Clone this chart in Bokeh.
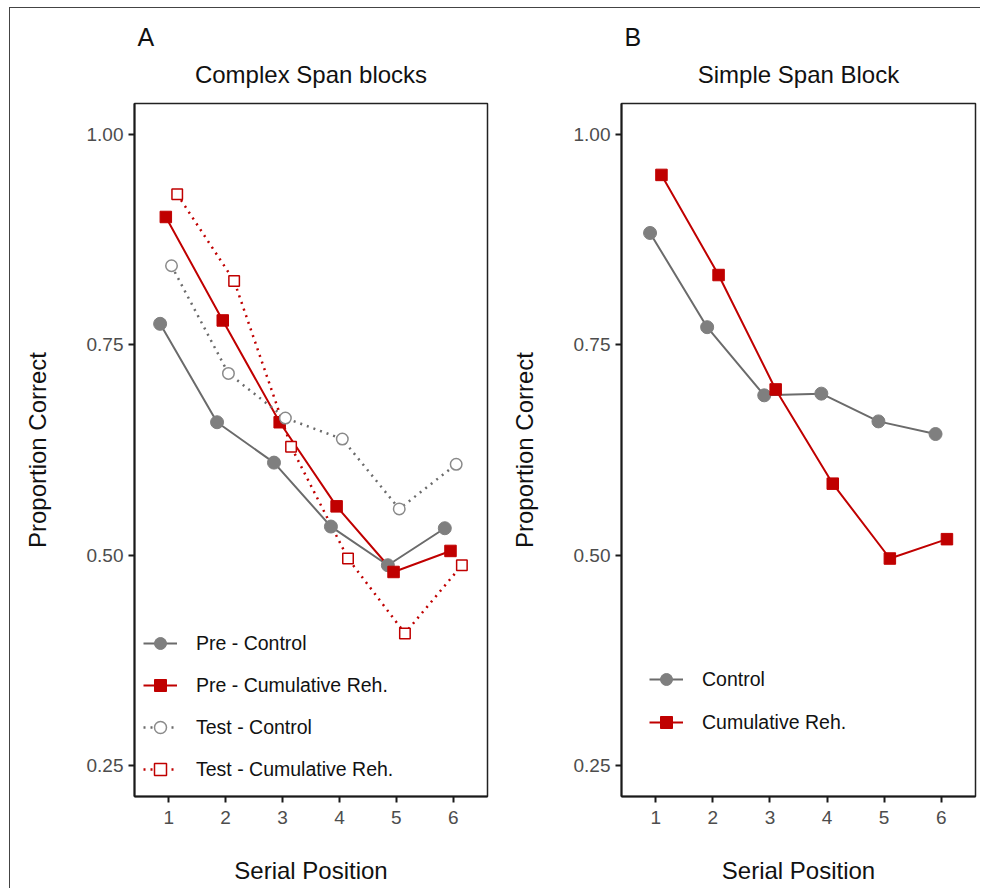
from bokeh.plotting import figure
from bokeh.models import Range1d, FixedTicker, Legend, LegendItem, Title, Spacer
from bokeh.layouts import row, column
from bokeh.embed import file_html
from bokeh.resources import INLINE

# ---------------- data ----------------
serial_position = [1, 2, 3, 4, 5, 6]

a_pre_control = [0.775, 0.658, 0.610, 0.534, 0.488, 0.532]
a_pre_cumulative = [0.902, 0.779, 0.658, 0.558, 0.480, 0.505]
a_test_control = [0.844, 0.716, 0.663, 0.638, 0.555, 0.608]
a_test_cumulative = [0.929, 0.826, 0.629, 0.496, 0.407, 0.488]

b_control = [0.883, 0.771, 0.690, 0.692, 0.659, 0.644]
b_cumulative = [0.952, 0.833, 0.697, 0.585, 0.496, 0.519]

y_ticks = [0.25, 0.50, 0.75, 1.00]
y_tick_labels = ["0.25", "0.50", "0.75", "1.00"]
x_ticks = [1, 2, 3, 4, 5, 6]

# ---------------- style ----------------
FONT = "Liberation Sans"
GRAY_PT = "#7f7f7f"
GRAY_LN = "#6b6b6b"
GRAY_OPEN = "#8a8a8a"
RED = "#c00000"
DODGE = 0.4  # total dodge width (ggplot position_dodge)
H = 880
TOP = 95
BOTTOM = 788


def dodge(xs, k, n):
    step = DODGE / n
    off = -DODGE / 2 + step * (k + 0.5)
    return [x + off for x in xs]


def make_panel(width, left, right, title, letter):
    p = figure(width=width, height=H, output_backend="svg", toolbar_location=None,
               x_range=Range1d(0.4, 6.6), y_range=Range1d(0.2131, 1.0369),
               min_border_left=left, min_border_right=right,
               min_border_top=TOP, min_border_bottom=H - BOTTOM, title=None)
    p.grid.visible = False
    p.outline_line_color = "#222222"
    p.outline_line_width = 1.5
    p.background_fill_color = "white"
    p.border_fill_color = "white"

    # blank spacer title (gap between frame and title), then title, then panel letter
    p.add_layout(Title(text=" ", text_font_size="1px", standoff=6), "above")
    p.add_layout(Title(text=title, align="center", text_font=FONT, text_font_size="24px",
                       text_font_style="normal", text_color="#111111", standoff=13), "above")
    p.add_layout(Title(text=letter, align="left", offset=3, text_font=FONT, text_font_size="25px",
                       text_font_style="normal", text_color="#111111", standoff=4), "above")

    for ax in (p.xaxis[0], p.yaxis[0]):
        ax.axis_line_width = 2
        ax.axis_line_color = "#1a1a1a"
        ax.major_tick_line_width = 2
        ax.major_tick_line_color = "#1a1a1a"
        ax.major_tick_out = 6
        ax.major_tick_in = 0
        ax.minor_tick_line_color = None
        ax.major_label_text_font = FONT
        ax.major_label_text_font_size = "19px"
        ax.major_label_text_color = "#4d4d4d"
        ax.axis_label_text_font = FONT
        ax.axis_label_text_font_size = "24px"
        ax.axis_label_text_font_style = "normal"
        ax.axis_label_text_color = "#111111"

    p.xaxis[0].major_label_standoff = 8
    p.yaxis[0].major_label_standoff = 5
    p.xaxis[0].ticker = FixedTicker(ticks=x_ticks)
    p.xaxis[0].axis_label = "Serial Position"
    p.xaxis[0].axis_label_standoff = 30
    p.yaxis[0].ticker = FixedTicker(ticks=y_ticks)
    p.yaxis[0].major_label_overrides = {t: l for t, l in zip(y_ticks, y_tick_labels)}
    p.yaxis[0].axis_label = "Proportion Correct"
    p.yaxis[0].axis_label_standoff = 33
    return p


def add_legend(p, items, loc, spacing):
    lg = Legend(items=items, location=loc, glyph_width=34, glyph_height=30,
                label_height=30, spacing=spacing, padding=0, margin=0,
                label_standoff=19, border_line_alpha=0, background_fill_alpha=0,
                label_text_font=FONT, label_text_font_size="19.5px",
                label_text_color="#111111")
    p.add_layout(lg)


# ---------------- Panel A ----------------
pA = make_panel(490, 124, 13, "Complex Span blocks", "A")

xa0 = dodge(serial_position, 0, 4)
xa1 = dodge(serial_position, 1, 4)
xa2 = dodge(serial_position, 2, 4)
xa3 = dodge(serial_position, 3, 4)

la0 = pA.line(xa0, a_pre_control, line_color=GRAY_LN, line_width=2)
la1 = pA.line(xa1, a_pre_cumulative, line_color=RED, line_width=2)
la2 = pA.line(xa2, a_test_control, line_color=GRAY_LN, line_width=2.5, line_dash="2 5")
la3 = pA.line(xa3, a_test_cumulative, line_color=RED, line_width=2.5, line_dash="2 5")

sa0 = pA.scatter(xa0, a_pre_control, marker="circle", size=13, fill_color=GRAY_PT, line_color=GRAY_PT)
sa1 = pA.scatter(xa1, a_pre_cumulative, marker="square", size=11.5, fill_color=RED, line_color=RED)
sa2 = pA.scatter(xa2, a_test_control, marker="circle", size=11.5, fill_color="white",
                 line_color=GRAY_OPEN, line_width=1.5)
sa3 = pA.scatter(xa3, a_test_cumulative, marker="square", size=10.5, fill_color="white",
                 line_color=RED, line_width=1.5)

add_legend(pA, [
    LegendItem(label="Pre - Control", renderers=[la0, sa0]),
    LegendItem(label="Pre - Cumulative Reh.", renderers=[la1, sa1]),
    LegendItem(label="Test - Control", renderers=[la2, sa2]),
    LegendItem(label="Test - Cumulative Reh.", renderers=[la3, sa3]),
], (9, 12), 12)

# ---------------- Panel B ----------------
pB = make_panel(480, 121, 5, "Simple Span Block", "B")

xb0 = dodge(serial_position, 0, 2)
xb1 = dodge(serial_position, 1, 2)

lb0 = pB.line(xb0, b_control, line_color=GRAY_LN, line_width=2)
lb1 = pB.line(xb1, b_cumulative, line_color=RED, line_width=2)
sb0 = pB.scatter(xb0, b_control, marker="circle", size=13, fill_color=GRAY_PT, line_color=GRAY_PT)
sb1 = pB.scatter(xb1, b_cumulative, marker="square", size=11.5, fill_color=RED, line_color=RED)

add_legend(pB, [
    LegendItem(label="Control", renderers=[lb0, sb0]),
    LegendItem(label="Cumulative Reh.", renderers=[lb1, sb1]),
], (28, 59), 13)

inner = row(pA, pB, styles={"border-left": "1px solid #444444",
                            "border-top": "1px solid #444444"})
layout = row(Spacer(width=9), column(Spacer(height=7), inner))

open("out.html", "w").write(file_html(layout, INLINE))
